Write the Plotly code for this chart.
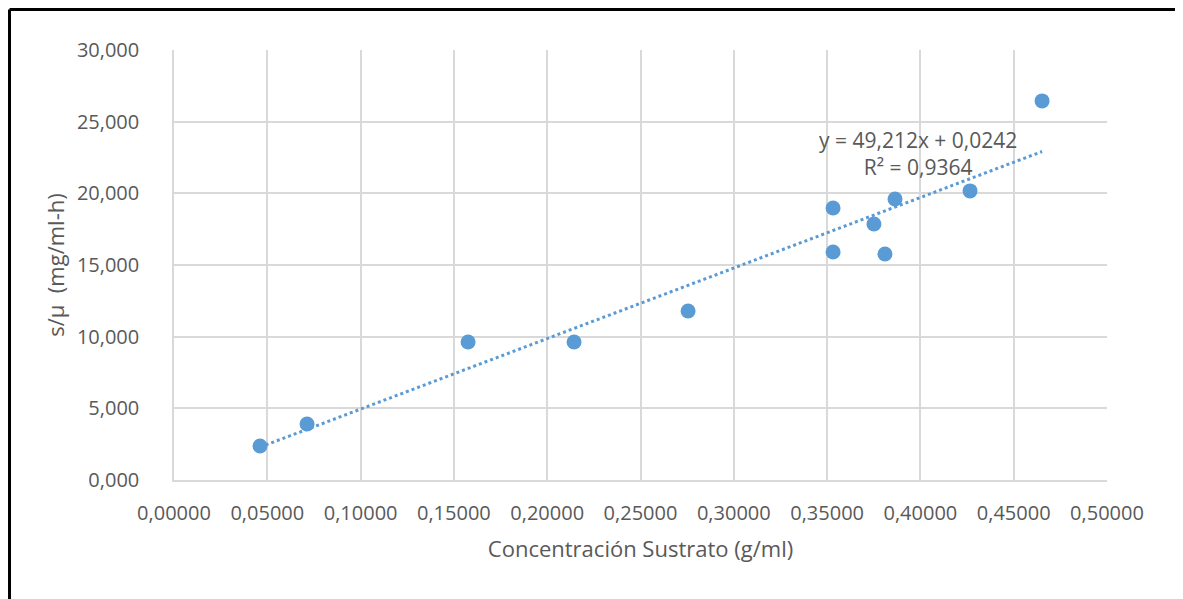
import plotly.graph_objects as go

# Data
concentracion = [0.0461, 0.0713, 0.1576, 0.2144, 0.2755, 0.3532, 0.3532, 0.3751, 0.3810, 0.3864, 0.4266, 0.4652]
s_mu = [2.37, 3.91, 9.63, 9.63, 11.79, 18.98, 15.91, 17.86, 15.77, 19.60, 20.17, 26.45]

# Linear trend as printed on the chart
slope = 49.212
intercept = 0.0242
eq_text = "y = 49,212x + 0,0242<br>R² = 0,9364"

x_ticks = [i * 0.05 for i in range(11)]
x_tick_labels = ["0,00000", "0,05000", "0,10000", "0,15000", "0,20000", "0,25000",
                 "0,30000", "0,35000", "0,40000", "0,45000", "0,50000"]
y_ticks = [0, 5, 10, 15, 20, 25, 30]
y_tick_labels = ["0,000", "5,000", "10,000", "15,000", "20,000", "25,000", "30,000"]

x0, x1 = min(concentracion), max(concentracion)
trend_x = [x0, x1]
trend_y = [slope * x0 + intercept, slope * x1 + intercept]

BLUE = "#5B9BD5"
TEXT = "#595959"
GRID = "#D9D9D9"
FONT = "Open Sans"
INVIS = "rgba(0,0,0,0)"

fig = go.Figure()
fig.add_trace(go.Scatter(
    x=trend_x, y=trend_y, mode="lines",
    line=dict(color=BLUE, width=3, dash="dot"),
    hoverinfo="skip", showlegend=False,
))
fig.add_trace(go.Scatter(
    x=concentracion, y=s_mu, mode="markers",
    marker=dict(color=BLUE, size=15, line=dict(width=0)),
    showlegend=False,
))

fig.add_annotation(
    x=0.3985, y=22.8, xref="x", yref="y", text=eq_text, showarrow=False,
    font=dict(family=FONT, size=21, color=TEXT), align="center",
)

# outer frame (black border of the screenshot)
fig.add_shape(type="line", xref="paper", yref="paper",
              x0=-0.1763, x1=1.1, y0=1.0942, y1=1.0942,
              line=dict(color="black", width=3))
fig.add_shape(type="line", xref="paper", yref="paper",
              x0=-0.1763, x1=-0.1763, y0=1.0942, y1=-0.4,
              line=dict(color="black", width=3))

fig.update_layout(
    width=1183, height=599,
    margin=dict(l=166, r=84, t=42, b=127),
    paper_bgcolor="white", plot_bgcolor="white",
    font=dict(family=FONT, size=20, color=TEXT),
)
fig.update_xaxes(
    range=[0, 0.5], tickvals=x_ticks, ticktext=x_tick_labels,
    showgrid=True, gridcolor=GRID, gridwidth=1.5,
    showline=True, linecolor=GRID, linewidth=1.5,
    zeroline=False, ticks="outside", ticklen=14, tickcolor=INVIS,
    tickfont=dict(family=FONT, size=20, color=TEXT),
    title=dict(text="Concentración Sustrato (g/ml)", standoff=17,
               font=dict(family=FONT, size=22, color=TEXT)),
)
fig.update_yaxes(
    range=[0, 30], tickvals=y_ticks, ticktext=y_tick_labels,
    showgrid=True, gridcolor=GRID, gridwidth=1.5,
    showline=True, linecolor=GRID, linewidth=1.5,
    zeroline=False, ticks="outside", ticklen=29, tickcolor=INVIS,
    tickfont=dict(family=FONT, size=20, color=TEXT),
    title=dict(text="s/µ  (mg/ml-h)", standoff=6,
               font=dict(family=FONT, size=22, color=TEXT)),
)

fig.write_html("out.html")
